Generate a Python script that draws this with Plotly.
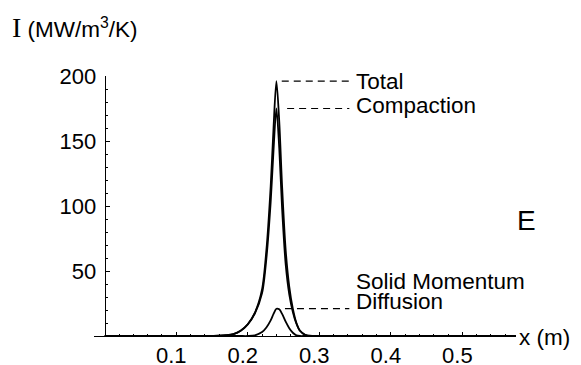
import plotly.graph_objects as go

# ---- data ----
x_m = [0.0, 0.14, 0.16, 0.17, 0.18, 0.19, 0.20, 0.21, 0.22, 0.226, 0.232, 0.236,
       0.240, 0.244, 0.248, 0.253, 0.258, 0.263, 0.268, 0.273, 0.28, 0.29, 0.575]
total = [0, 0, 0.2, 0.6, 1.5, 4, 9, 18, 36, 66, 115, 160,
         196, 165, 115, 66, 38, 21, 10, 4, 1, 0, 0]
compaction = [0, 0, 0.2, 0.6, 1.5, 4, 9, 17.5, 33, 59.5, 103, 143,
              175, 144.5, 98, 55, 32, 18.5, 9.5, 4, 1, 0, 0]
diffusion = [0, 0, 0, 0, 0, 0, 0, 0.5, 3, 6.5, 12, 17,
             21, 20.5, 17, 11, 6, 2.5, 0.5, 0, 0, 0, 0]

x_ticks = [0.1, 0.2, 0.3, 0.4, 0.5]
x_ticktext = ["0.1", "0.2", "0.3", "0.4", "0.5"]
x_minor = [0.02, 0.04, 0.06, 0.08, 0.12, 0.14, 0.16, 0.18, 0.22, 0.24, 0.26, 0.28,
           0.32, 0.34, 0.36, 0.38, 0.42, 0.44, 0.46, 0.48, 0.52, 0.54, 0.56]
y_ticks = [50, 100, 150, 200]
y_ticktext = ["50", "100", "150", "200"]
y_minor = [10, 20, 30, 40, 60, 70, 80, 90, 110, 120, 130, 140, 160, 170, 180, 190]

labels = ["Total", "Compaction", "Solid Momentum", "Diffusion"]

FONT = "Liberation Sans, Arial, Helvetica, sans-serif"
XR = [-0.015, 0.575]

fig = go.Figure()
for ys in (total, compaction, diffusion):
    fig.add_trace(go.Scatter(x=x_m, y=ys, mode="lines",
                             line=dict(color="black", width=1.8, shape="spline", smoothing=0.8),
                             showlegend=False, hoverinfo="skip"))

# leader lines from peaks to labels
def peak(ys):
    i = max(range(len(ys)), key=lambda k: ys[k])
    return x_m[i], ys[i]

label_x = 0.348
for ys, dx in ((total, 0.0075), (compaction, 0.015), (diffusion, 0.012)):
    px, py = peak(ys)
    fig.add_shape(type="line", x0=px + dx, x1=label_x - 0.006, y0=py, y1=py,
                  line=dict(color="black", width=1.2, dash="7px,5px"))

_, pt = peak(total)
_, pc = peak(compaction)
_, pd = peak(diffusion)
ann = [
    (labels[0], pt, 0),
    (labels[1], pc, 3),
    (labels[2], pd, 27),
    (labels[3], pd, 7),
]
for txt, yv, ys in ann:
    fig.add_annotation(x=label_x, y=yv, text=txt, xref="x", yref="y", showarrow=False,
                       xanchor="left", yanchor="middle", yshift=ys,
                       font=dict(family=FONT, size=22.5, color="black"))

fig.add_annotation(x=1.026, y=0.445, xref="paper", yref="paper", text="E", showarrow=False,
                   xanchor="center", yanchor="middle", font=dict(family=FONT, size=28, color="black"))
fig.add_annotation(x=1.003, y=-0.006, xref="paper", yref="paper", text="x (m)", showarrow=False,
                   xanchor="left", yanchor="middle", font=dict(family=FONT, size=22.5, color="black"))
fig.add_annotation(x=-0.198, y=1.185, xref="paper", yref="paper",
                   text="<span style='font-family:Liberation Serif, Times New Roman, serif;font-size:28px'>I</span> (MW/m<sup>3</sup>/K)",
                   showarrow=False, xanchor="left", yanchor="middle",
                   font=dict(family=FONT, size=22.5, color="black"))

# page body adds an 8px margin, so the figure is 8px smaller and margins shifted
fig.update_layout(
    width=573, height=357,
    margin=dict(l=86, r=65, t=68, b=29, autoexpand=False),
    paper_bgcolor="white", plot_bgcolor="white",
    xaxis=dict(range=XR, showgrid=False, zeroline=False, showline=True, linecolor="black",
               linewidth=1, ticks="inside", ticklen=4, tickcolor="black", tickwidth=1,
               automargin=False,
               tickmode="array", tickvals=x_ticks, ticktext=x_ticktext,
               ticklabelshift=-5, ticklabelstandoff=0,
               tickfont=dict(family=FONT, size=22, color="black"),
               minor=dict(tickmode="array", tickvals=x_minor, ticks="inside", ticklen=2,
                          tickcolor="black", tickwidth=1, showgrid=False)),
    yaxis=dict(range=[0, 200], showgrid=False, zeroline=False, showline=True, linecolor="black",
               linewidth=1, anchor="free", position=(0 - XR[0]) / (XR[1] - XR[0]),
               automargin=False,
               ticks="inside", ticklen=4, tickcolor="black", tickwidth=1,
               tickmode="array", tickvals=y_ticks, ticktext=y_ticktext,
               ticklabelstandoff=4,
               tickfont=dict(family=FONT, size=22, color="black"),
               minor=dict(tickmode="array", tickvals=y_minor, ticks="inside", ticklen=2,
                          tickcolor="black", tickwidth=1, showgrid=False)),
)

fig.write_html("out.html")
